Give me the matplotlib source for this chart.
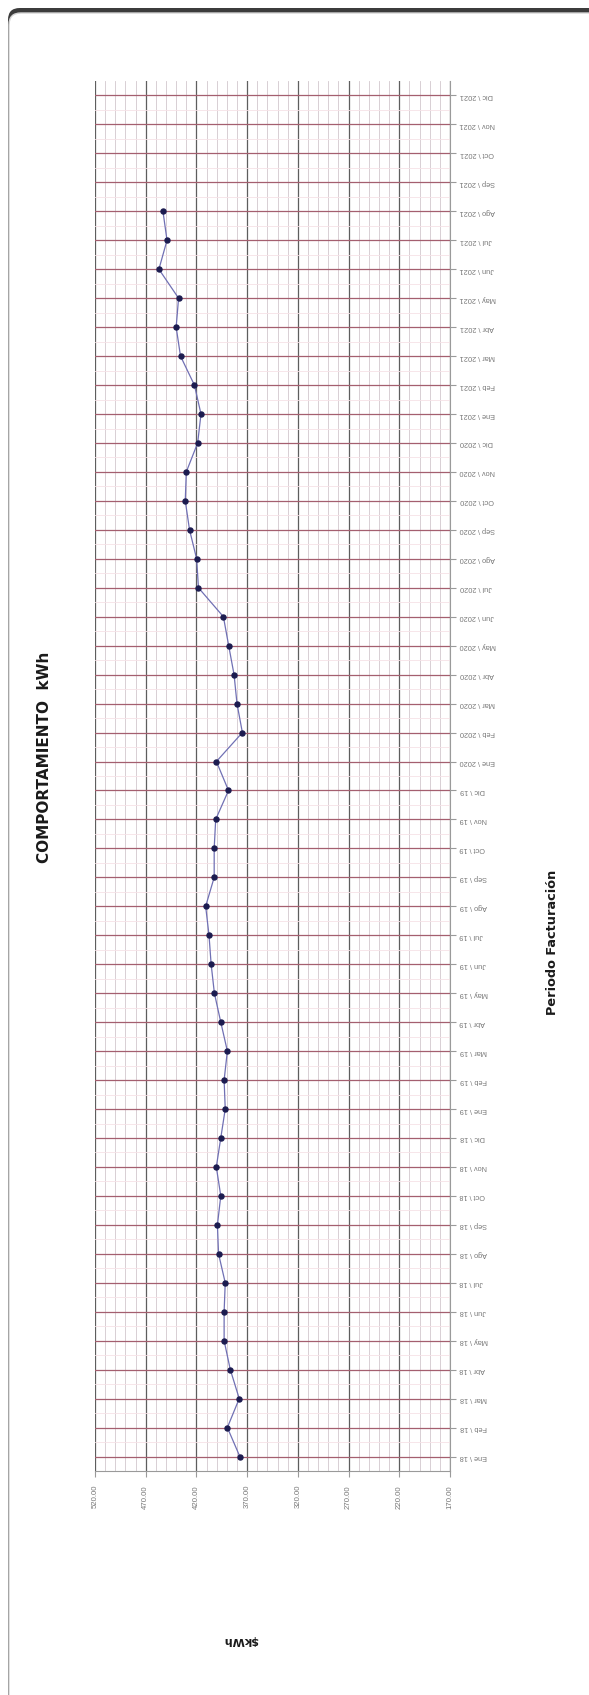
import matplotlib
matplotlib.use('Agg')
import matplotlib.pyplot as plt
import matplotlib.patches as patches
from matplotlib.ticker import MultipleLocator, FixedLocator
import numpy as np

# Data: monthly kWh, Ene 2018 .. Dic 2021 (last four months empty)
month_names = ['Ene', 'Feb', 'Mar', 'Abr', 'May', 'Jun',
               'Jul', 'Ago', 'Sep', 'Oct', 'Nov', 'Dic']
year_labels = ['18', '19', '2020', '2021']
categories = [f"{m} \\ {y}" for y in year_labels for m in month_names]

kwh_2018 = [377.2, 389.5, 377.8, 386.6, 392.7, 392.7, 391.6, 398.2, 399.3, 396.0, 400.4, 396.0]
kwh_2019 = [391.6, 392.7, 389.5, 396.0, 402.3, 405.5, 407.6, 410.9, 402.5, 402.5, 401.0, 388.4]
kwh_2020 = [400.3, 374.7, 380.0, 382.9, 388.2, 393.4, 418.0, 419.8, 426.8, 431.0, 430.0, 418.8]
kwh_2021 = [415.5, 422.0, 435.7, 440.0, 437.6, 457.0, 449.0, 453.0]

value_ticks = [520, 470, 420, 370, 320, 270, 220, 170]

values = kwh_2018 + kwh_2019 + kwh_2020 + kwh_2021
values = values + [np.nan] * (len(categories) - len(values))

W, H = 589, 1695
fig = plt.figure(figsize=(W / 100, H / 100), dpi=100)
fig.patch.set_facecolor('white')

# card frame with dark top edge (kept behind the axes)
dark = patches.FancyBboxPatch((8 / W, -0.05), 1.2, 1 - 8 / H + 0.05,
                              boxstyle='round,pad=0,rounding_size=0.02',
                              transform=fig.transFigure, fc='#3c3c3c', ec='none',
                              mutation_aspect=W / H, zorder=-10)
card = patches.FancyBboxPatch((9 / W, -0.05), 1.2, 1 - 13 / H + 0.05,
                              boxstyle='round,pad=0,rounding_size=0.02',
                              transform=fig.transFigure, fc='white', ec='#d4d4d4', lw=1,
                              mutation_aspect=W / H, zorder=-9)
fig.patches.extend([dark, card])

ax = fig.add_axes([95 / W, 1 - 1471 / H, 355 / W, 1390 / H])
ax.set_facecolor('none')

y = np.arange(len(categories))
ax.set_xlim(520, 170)
ax.set_ylim(-0.5, len(categories) - 0.5)

# grid
ax.xaxis.set_major_locator(FixedLocator(value_ticks))
ax.xaxis.set_minor_locator(MultipleLocator(10))
ax.grid(which='major', axis='x', color='#5e5e5e', lw=0.9)
ax.grid(which='minor', axis='x', color='#d2c8cd', lw=0.6)
ax.set_yticks(y)
ax.set_yticks(y[:-1] + 0.5, minor=True)
ax.grid(which='major', axis='y', color='#a45f6f', lw=0.9)
ax.grid(which='minor', axis='y', color='#f6e2e7', lw=0.6)
ax.set_axisbelow(True)

ax.plot(values, y, color='#7070b4', lw=0.9, marker='o', markersize=3.6,
        markerfacecolor='#1c1c50', markeredgecolor='#1c1c50', zorder=3)

for s in ['top', 'left']:
    ax.spines[s].set_visible(False)
for s in ['bottom', 'right']:
    ax.spines[s].set_color('#9a9a9a')
    ax.spines[s].set_linewidth(0.8)

ax.yaxis.tick_right()
ax.set_yticklabels(categories, rotation=180, fontsize=5.3, color='#777777',
                   ha='left', va='center', family='Liberation Sans')
ax.tick_params(axis='y', which='major', length=4, color='#9a9a9a', pad=3)
ax.tick_params(axis='y', which='minor', length=0)
ax.set_xticks(value_ticks)
ax.set_xticklabels([f"{v:.2f}" for v in value_ticks], rotation=90,
                   fontsize=5.6, color='#777777', family='Liberation Sans')
ax.tick_params(axis='x', which='major', length=4, color='#9a9a9a', pad=6)
ax.tick_params(axis='x', which='minor', length=0)

fig.text(45 / W, 1 - 757 / H, 'COMPORTAMIENTO  kWh', rotation=90, fontsize=11,
         fontweight='bold', color='#1a1a1a', ha='center', va='center')
fig.text(553 / W, 1 - 942 / H, 'Periodo Facturación', rotation=90, fontsize=9.3,
         fontweight='bold', color='#1a1a1a', ha='center', va='center')
fig.text(241 / W, 1 - 1640 / H, '$kWh', rotation=180, fontsize=8,
         fontweight='bold', color='#1a1a1a', ha='center', va='center')

fig.savefig('out.png', dpi=100)
